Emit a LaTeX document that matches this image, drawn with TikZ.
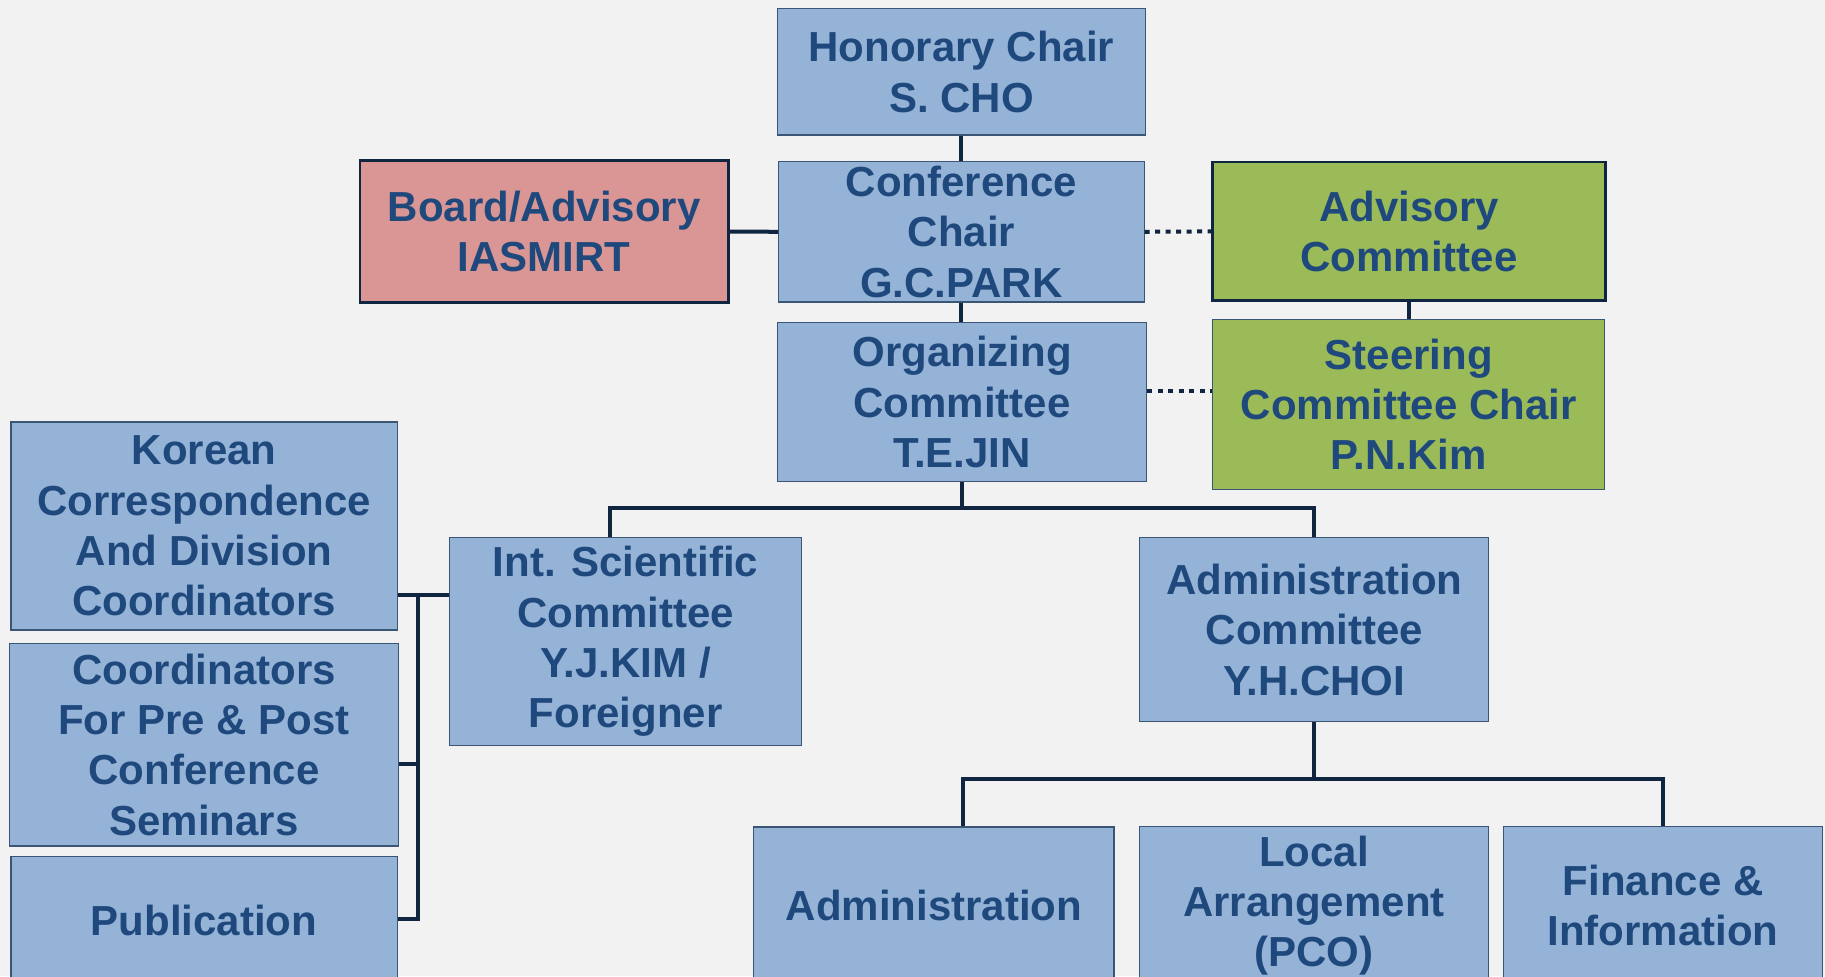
\documentclass[tikz,border=0pt]{standalone}
\usepackage{fontspec}
\setmainfont{Liberation Sans}
\usetikzlibrary{positioning}

\definecolor{bgcol}{HTML}{F2F2F2}
\definecolor{boxblue}{HTML}{95B3D7}
\definecolor{boxred}{HTML}{D99694}
\definecolor{boxgreen}{HTML}{9BBB59}
\definecolor{txtcol}{HTML}{1F497D}
\definecolor{linecol}{HTML}{10253F}
\definecolor{edgecol}{HTML}{3B5574}

\begin{document}
\begin{tikzpicture}[x=0.5pt,y=-0.5pt,
  unit/.style={rectangle,draw=edgecol,line width=0.6pt,fill=boxblue,inner sep=0pt,
    align=center,text=txtcol,font=\fontsize{21}{25.2}\selectfont\bfseries},
  board/.style={unit,fill=boxred,draw=linecol,line width=1.3pt},
  advis/.style={unit,fill=boxgreen,draw=linecol,line width=1.3pt},
  steer/.style={unit,fill=boxgreen},
  conn/.style={draw=linecol,line width=2pt},
  dotline/.style={draw=linecol,line width=2pt,dash pattern=on 2.5pt off 2.75pt}]
\useasboundingbox[fill=bgcol] (0,0) rectangle (1825,976);

% top of the chart
\node[unit,minimum width=184pt,minimum height=63.2pt] (hon) at (961.4,71.8) {Honorary Chair\\S. CHO};
\node[unit,minimum width=182.7pt,minimum height=70.2pt] (conf) at (961.4,231.8) {Conference\\Chair\\G.C.PARK};
\node[board,minimum width=184.3pt,minimum height=70.9pt] (brd) at (544.3,231.5) {Board/Advisory\\IASMIRT};
\node[advis,minimum width=196.3pt,minimum height=69.3pt] (advc) at (1408.9,231.4) {Advisory\\Committee};
\node[unit,minimum width=184.5pt,minimum height=79.7pt] (org) at (962,402) {Organizing\\Committee\\T.E.JIN};
\node[steer,minimum width=196.1pt,minimum height=85.1pt] (stc) at (1408.7,404.2) {Steering\\Committee Chair\\P.N.Kim};

% committees
\node[unit,minimum width=175.9pt,minimum height=103.7pt] (isc) at (625.6,641.5) {Int. Scientific\\Committee\\Y.J.KIM /\\Foreigner};
\node[unit,minimum width=174.6pt,minimum height=92pt] (adc) at (1314.2,629.7) {Administration\\Committee\\Y.H.CHOI};

% left column
\node[unit,minimum width=193.1pt,minimum height=104pt] (kor) at (204.1,526) {Korean\\Correspondence\\And Division\\Coordinators};
\node[unit,minimum width=194.5pt,minimum height=101.3pt] (crd) at (204,744.7) {Coordinators\\For Pre \& Post\\Conference\\Seminars};
\node[unit,minimum width=193.1pt,minimum height=63.6pt] (pub) at (204.1,920.4) {Publication};

% bottom row
\node[unit,minimum width=180.1pt,minimum height=78.5pt] (adm) at (933.9,905.5) {Administration};
\node[unit,minimum width=174.5pt,minimum height=79.4pt] (loc) at (1314,905.6) {Local\\Arrangement\\(PCO)};
\node[unit,minimum width=159.5pt,minimum height=79.4pt] (fin) at (1663,905.6) {Finance \&\\Information};

% connectors
\draw[conn] (hon.south) -- (conf.north);
\draw[conn] (conf.south) -- (conf.south |- org.north);
\draw[conn] (brd.east) -- (conf.west);
\draw[conn] (advc.south) -- (advc.south |- stc.north);
\draw[dotline] (conf.east) -- (advc.west);
\coordinate (od) at ([yshift=5.5pt]org.east);
\draw[dotline] (od) -- (od -| stc.west);

\draw[conn] (org.south) -- (org.south |- 0,508.4);
\draw[conn] ([xshift=-7.8pt]isc.north) |- (adc.north |- 0,508.4) -- (adc.north);

\draw[conn] (adc.south) -- (adc.south |- 0,779);
\draw[conn] ([xshift=14.5pt]adm.north) |- (fin.north |- 0,779) -- (fin.north);

\coordinate (bk) at (418.4,594.7);
\draw[conn] (kor.east |- bk) -- (isc.west |- bk);
\draw[conn] (crd.east |- 0,763.7) -| (bk);
\draw[conn] (pub.east |- 0,918.7) -| (bk);
\end{tikzpicture}
\end{document}
